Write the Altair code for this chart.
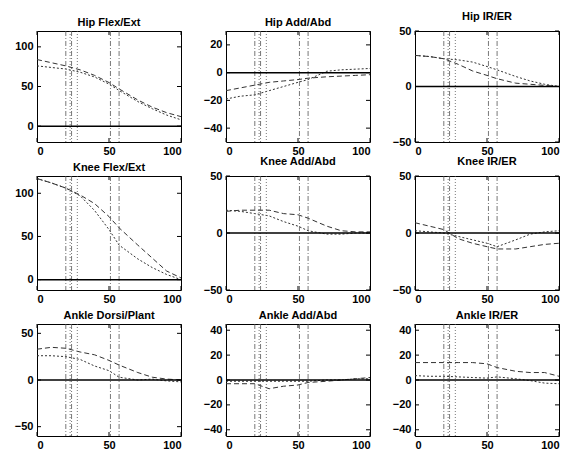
import altair as alt
import pandas as pd

# ---- data ----
X = [0, 10, 20, 30, 40, 50, 57, 70, 80, 90, 100]
EVENTS_DASHDOT = [20, 24, 51, 57]
EVENTS_DOTTED = [23, 28]
X_TICKS = [0, 50, 100]

titles = ["Hip Flex/Ext", "Hip Add/Abd", "Hip IR/ER",
          "Knee Flex/Ext", "Knee Add/Abd", "Knee IR/ER",
          "Ankle Dorsi/Plant", "Ankle Add/Abd", "Ankle IR/ER"]

y_domains = [[-20, 120], [-50, 30], [-50, 50],
             [-12, 120], [-50, 50], [-50, 50],
             [-60, 60], [-45, 45], [-45, 45]]

y_ticks = [[0, 50, 100], [-40, -20, 0, 20], [-50, 0, 50],
           [0, 50, 100], [-50, 0, 50], [-50, 0, 50],
           [-50, 0, 50], [-40, -20, 0, 20, 40], [-40, -20, 0, 20, 40]]

hip_flex_a = [84, 80, 76, 71, 64, 55, 47, 33, 24, 17, 12]
hip_flex_b = [76, 74, 72, 68, 62, 53, 45, 31, 22, 14, 8]
hip_add_a = [-13, -11, -9, -7, -6, -5, -4, -3, -2.5, -2, -1.5]
hip_add_b = [-19, -17, -16, -13, -10, -7, -5, 1, 2, 2.5, 3]
hip_ir_a = [28, 27, 25, 20, 14, 10, 7, 3, 2, 1, 0]
hip_ir_b = [28, 27, 25, 24, 22, 18, 15, 9, 5, 2, 0]
knee_flex_a = [117, 112, 106, 98, 88, 73, 60, 40, 25, 10, 2]
knee_flex_b = [117, 112, 106, 97, 80, 58, 40, 24, 14, 6, 0]
knee_add_a = [19, 20, 20, 20, 17, 16, 13, 6, 2, 1, 1]
knee_add_b = [20, 19, 17, 15, 10, 6, 2, -1, -1, 0, 0]
knee_ir_a = [9, 6, 3, -5, -9, -12, -14, -14, -12, -10, -9]
knee_ir_b = [2, 1, 0, -3, -6, -9, -12, -6, -1, 1, 2]
ankle_dp_a = [33, 35, 34, 30, 27, 21, 16, 8, 3, 1, 0]
ankle_dp_b = [26, 26, 25, 22, 15, 10, 3, 0, 1, -1, -2]
ankle_add_a = [-3, -3, -3, -7, -5, -4, -2, -1, 0, 1, 2]
ankle_add_b = [-1, -1, -1, -1, -1, -1, -1, 0, 0, 1, 1]
ankle_ir_a = [14, 14, 14, 14, 14, 13, 10, 7, 6, 6, 3]
ankle_ir_b = [3.5, 3, 3, 2.5, 2, 1.5, 2.5, 1, -0.5, -2.5, -3]

series_a = [hip_flex_a, hip_add_a, hip_ir_a, knee_flex_a, knee_add_a,
            knee_ir_a, ankle_dp_a, ankle_add_a, ankle_ir_a]
series_b = [hip_flex_b, hip_add_b, hip_ir_b, knee_flex_b, knee_add_b,
            knee_ir_b, ankle_dp_b, ankle_add_b, ankle_ir_b]

heights = [111, 111, 111, 114, 114, 114, 112, 112, 112]
W = 144
FONT = "Liberation Sans"


def panel(i):
    h = heights[i]
    dom = y_domains[i]
    df = pd.DataFrame({
        "x": X + X,
        "y": series_a[i] + series_b[i],
        "s": ["A"] * len(X) + ["B"] * len(X),
    })
    xs = alt.Scale(domain=[0, 100], nice=False, zero=False)
    ys = alt.Scale(domain=dom, nice=False, zero=False)
    xax = alt.Axis(values=X_TICKS, grid=False, ticks=False, domain=False,
                   labelFont=FONT, labelFontSize=11, labelFontWeight="bold",
                   labelColor="black", labelPadding=3, title=None)
    yax = alt.Axis(values=y_ticks[i], grid=False, ticks=False, domain=False,
                   labelFont=FONT, labelFontSize=11, labelFontWeight="bold",
                   labelColor="black", labelPadding=4, title=None)

    def ex(f="x"):
        return alt.X(f"{f}:Q", scale=xs, axis=xax)

    def ey(f="y"):
        return alt.Y(f"{f}:Q", scale=ys, axis=yax)

    lines = alt.Chart(df).mark_line(color="#333333", strokeWidth=1, clip=True).encode(
        x=ex(), y=ey(),
        strokeDash=alt.StrokeDash("s:N", scale=alt.Scale(domain=["A", "B"],
                                  range=[[5, 3], [2, 2]]), legend=None),
    )
    ev1 = alt.Chart(pd.DataFrame({"x": EVENTS_DASHDOT})).mark_rule(
        color="#555555", strokeWidth=0.8, strokeDash=[5, 2, 1, 2]).encode(x=ex())
    ev2 = alt.Chart(pd.DataFrame({"x": EVENTS_DOTTED})).mark_rule(
        color="#555555", strokeWidth=0.8, strokeDash=[1, 2]).encode(x=ex())
    zero = alt.Chart(pd.DataFrame({"y": [0]})).mark_rule(
        color="black", strokeWidth=1.5).encode(y=ey())

    yt = pd.DataFrame({"y": y_ticks[i]})
    xt = pd.DataFrame({"x": X_TICKS})
    tick_l = alt.Chart(yt).mark_rule(color="black").encode(
        y=ey(), x=alt.value(0), x2=alt.value(4))
    tick_r = alt.Chart(yt).mark_rule(color="black").encode(
        y=ey(), x=alt.value(W - 4), x2=alt.value(W))
    tick_b = alt.Chart(xt).mark_rule(color="black").encode(
        x=ex(), y=alt.value(h), y2=alt.value(h - 4))
    tick_t = alt.Chart(xt).mark_rule(color="black").encode(
        x=ex(), y=alt.value(0), y2=alt.value(4))

    return alt.layer(lines, ev1, ev2, zero, tick_l, tick_r, tick_b, tick_t).properties(
        width=W, height=h,
        title=alt.TitleParams(titles[i], font=FONT, fontSize=11, fontWeight="bold",
                              color="black", offset=3),
    )


chart = alt.concat(*[panel(i) for i in range(9)], columns=3,
                   spacing={"row": 34, "column": 45}, bounds="flush").properties(
    padding={"left": 5, "top": 2, "right": 0, "bottom": 0}
).configure(
    background="white",
    view=alt.ViewConfig(stroke="black", strokeWidth=1),
)

chart.save("out.html", embed_options={"renderer": "svg", "actions": False})
